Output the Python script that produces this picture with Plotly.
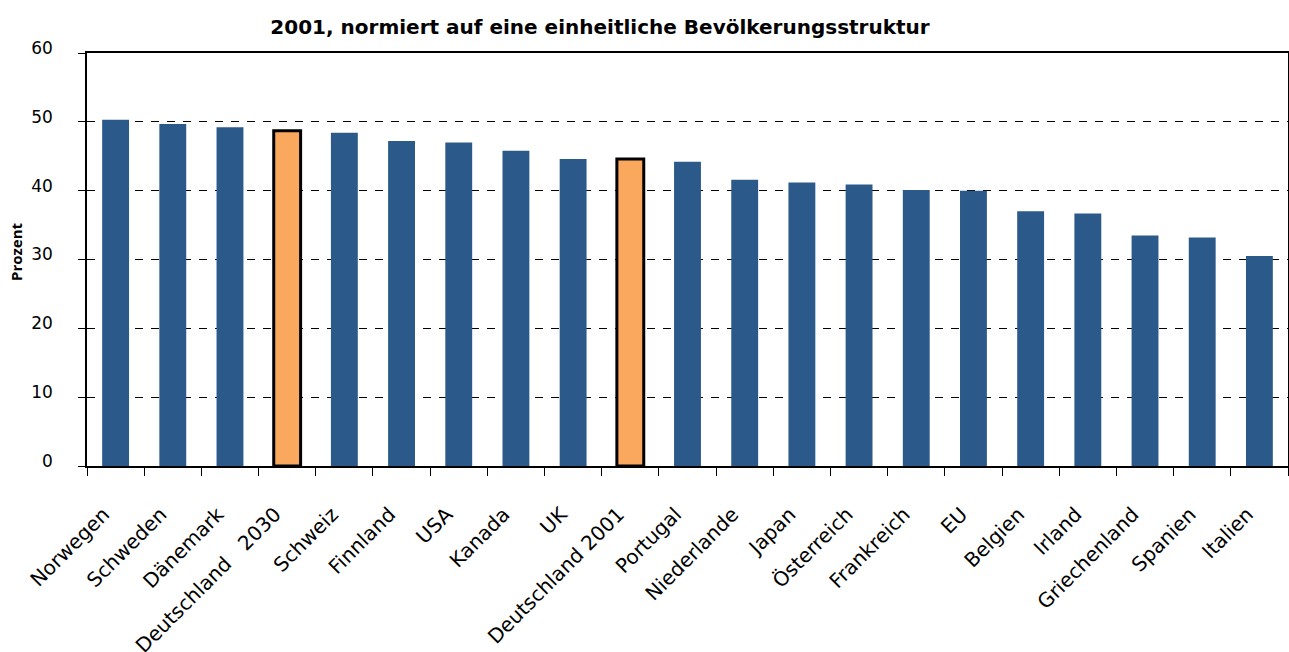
import plotly.graph_objects as go

categories = ["Norwegen", "Schweden", "Dänemark", "Deutschland   2030", "Schweiz", "Finnland",
              "USA", "Kanada", "UK", "Deutschland 2001", "Portugal", "Niederlande", "Japan",
              "Österreich", "Frankreich", "EU", "Belgien", "Irland", "Griechenland", "Spanien", "Italien"]
values = [50.3, 49.7, 49.2, 48.7, 48.4, 47.2, 47.0, 45.8, 44.6, 44.6, 44.2, 41.6, 41.2,
          40.9, 40.1, 40.0, 37.0, 36.7, 33.5, 33.2, 30.5]
highlight = ["Deutschland   2030", "Deutschland 2001"]
y_ticks = [0, 10, 20, 30, 40, 50, 60]

BLUE = "#2B5A8A"
ORANGE = "#F9A85E"
colors = [ORANGE if c in highlight else BLUE for c in categories]
line_w = [3 if c in highlight else 0 for c in categories]

W, H = 1289, 652
L, R, T, B = 87, 1, 53, 186

fig = go.Figure(go.Bar(
    x=categories, y=values,
    marker=dict(color=colors, line=dict(color="black", width=line_w)),
    width=0.47,
))

fig.update_layout(
    width=W, height=H, autosize=False,
    margin=dict(l=L, r=R, t=T, b=B, autoexpand=False),
    paper_bgcolor="white", plot_bgcolor="white",
    showlegend=False,
    title=dict(text="<b>2001, normiert auf eine einheitliche Bevölkerungsstruktur</b>",
               x=600 / W, xanchor="center", y=1 - 27 / H, yanchor="middle",
               font=dict(family="DejaVu Sans", size=20, color="black")),
    annotations=[dict(
        text="<b>Prozent</b>", textangle=-90, showarrow=False,
        xref="paper", yref="paper",
        x=(16 - L) / (W - L - R), y=(H - B - 252) / (H - T - B),
        xanchor="center", yanchor="middle",
        font=dict(family="Open Sans", size=15, color="black"),
    )],
)
fig.update_xaxes(
    type="category", tickangle=-45, automargin=False,
    tickfont=dict(family="DejaVu Sans", size=20, color="black"),
    ticklabelstandoff=27, ticklabelshift=-12,
    showline=True, linecolor="black", linewidth=1.5, mirror=True,
    ticks="outside", tickson="boundaries", ticklen=8, tickcolor="black",
    showgrid=False,
)
fig.update_yaxes(
    range=[0, 60], tickvals=y_ticks, automargin=False,
    tickfont=dict(family="DejaVu Sans", size=17, color="black"),
    ticklabelstandoff=22, ticklabelshift=-5,
    showline=True, linecolor="black", linewidth=1.5, mirror=True,
    ticks="outside", ticklen=7, tickcolor="black",
    showgrid=True, gridcolor="black", gridwidth=1, griddash="8px,8px",
    zeroline=False,
)

fig.write_html("out.html", config={"responsive": False, "displayModeBar": False},
               post_script="document.body.style.margin='0';document.body.style.overflow='hidden';")
